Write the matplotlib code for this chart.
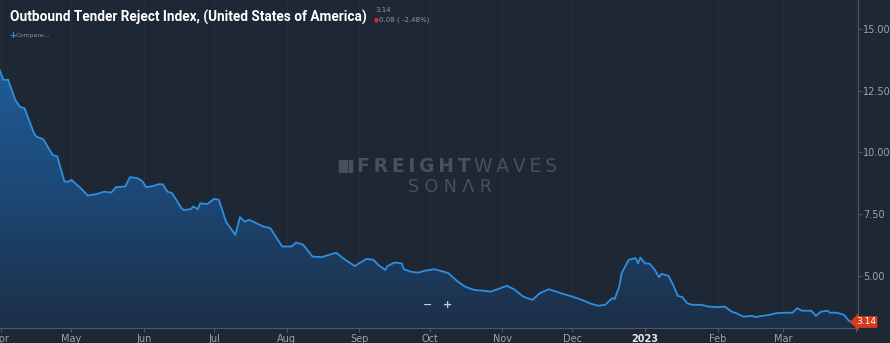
import matplotlib
matplotlib.use('Agg')
import matplotlib.pyplot as plt
import matplotlib.dates as mdates
import numpy as np
import pandas as pd
from matplotlib.colors import LinearSegmentedColormap
from matplotlib.patches import Rectangle

# values
dates = ['2022-03-31', '2022-04-02', '2022-04-04', '2022-04-07', '2022-04-09', '2022-04-11',
         '2022-04-15', '2022-04-16', '2022-04-19', '2022-04-23', '2022-04-25', '2022-04-28',
         '2022-04-30', '2022-05-01', '2022-05-05', '2022-05-08', '2022-05-12', '2022-05-15',
         '2022-05-18', '2022-05-20', '2022-05-24', '2022-05-26', '2022-05-29', '2022-05-31',
         '2022-06-02', '2022-06-05', '2022-06-07', '2022-06-09', '2022-06-11', '2022-06-13',
         '2022-06-17', '2022-06-18', '2022-06-21', '2022-06-22', '2022-06-24', '2022-06-25',
         '2022-06-28', '2022-07-01', '2022-07-03', '2022-07-06', '2022-07-09', '2022-07-10',
         '2022-07-12', '2022-07-14', '2022-07-16', '2022-07-19', '2022-07-22', '2022-07-25',
         '2022-07-30', '2022-08-03', '2022-08-05', '2022-08-08', '2022-08-12', '2022-08-16',
         '2022-08-19', '2022-08-22', '2022-08-26', '2022-08-30', '2022-09-04', '2022-09-07',
         '2022-09-09', '2022-09-12', '2022-09-13', '2022-09-16', '2022-09-19', '2022-09-20',
         '2022-09-23', '2022-09-26', '2022-09-29', '2022-10-03', '2022-10-07', '2022-10-09',
         '2022-10-13', '2022-10-16', '2022-10-20', '2022-10-24', '2022-10-27', '2022-10-30',
         '2022-11-03', '2022-11-06', '2022-11-10', '2022-11-14', '2022-11-17', '2022-11-21',
         '2022-11-26', '2022-12-01', '2022-12-05', '2022-12-09', '2022-12-12', '2022-12-15',
         '2022-12-18', '2022-12-19', '2022-12-21', '2022-12-22', '2022-12-25', '2022-12-28',
         '2022-12-29', '2022-12-30', '2023-01-01', '2023-01-03', '2023-01-05', '2023-01-07',
         '2023-01-08', '2023-01-11', '2023-01-13', '2023-01-15', '2023-01-17', '2023-01-19',
         '2023-01-21', '2023-01-25', '2023-01-28', '2023-02-01', '2023-02-04', '2023-02-07',
         '2023-02-09', '2023-02-12', '2023-02-16', '2023-02-17', '2023-02-20', '2023-02-23',
         '2023-02-26', '2023-03-02', '2023-03-05', '2023-03-07', '2023-03-09', '2023-03-13',
         '2023-03-15', '2023-03-17', '2023-03-20', '2023-03-21', '2023-03-24', '2023-03-27',
         '2023-03-29', '2023-03-30']
otri = [13.41, 12.94, 12.94, 12.13, 11.85, 11.79,
        10.78, 10.64, 10.53, 9.90, 9.83, 8.82,
        8.82, 8.89, 8.55, 8.25, 8.32, 8.41,
        8.37, 8.59, 8.62, 9.00, 8.96, 8.86,
        8.59, 8.64, 8.71, 8.71, 8.41, 8.35,
        7.74, 7.67, 7.70, 7.81, 7.70, 7.94,
        7.91, 8.12, 8.08, 7.20, 6.79, 6.66,
        7.38, 7.20, 7.27, 7.13, 7.00, 6.93,
        6.19, 6.19, 6.35, 6.26, 5.78, 5.76,
        5.85, 5.94, 5.65, 5.40, 5.69, 5.65,
        5.45, 5.24, 5.40, 5.54, 5.51, 5.27,
        5.17, 5.13, 5.21, 5.27, 5.17, 5.11,
        4.77, 4.57, 4.43, 4.40, 4.36, 4.46,
        4.60, 4.46, 4.16, 4.03, 4.30, 4.46,
        4.30, 4.16, 4.03, 3.87, 3.79, 3.83,
        4.10, 4.06, 4.57, 5.11, 5.65, 5.72,
        5.51, 5.74, 5.51, 5.49, 5.27, 4.95,
        5.08, 5.00, 4.64, 4.19, 4.14, 3.89,
        3.83, 3.83, 3.76, 3.73, 3.76, 3.55,
        3.49, 3.35, 3.38, 3.33, 3.38, 3.42,
        3.49, 3.51, 3.51, 3.69, 3.59, 3.59,
        3.38, 3.55, 3.59, 3.51, 3.51, 3.42,
        3.19, 3.14]

month_ticks = ['2022-04-01', '2022-05-01', '2022-06-01', '2022-07-01', '2022-08-01', '2022-09-01',
               '2022-10-01', '2022-11-01', '2022-12-01', '2023-01-01', '2023-02-01', '2023-03-01',
               '2023-04-01']
month_labels = ['Apr', 'May', 'Jun', 'Jul', 'Aug', 'Sep', 'Oct', 'Nov', 'Dec', '2023', 'Feb', 'Mar', '']
y_ticks = [5.0, 7.5, 10.0, 12.5, 15.0]

bg = '#1e2734'
line_color = '#2e8fe0'
label_color = '#9aa4ae'

x = mdates.date2num(pd.to_datetime(dates))

fig = plt.figure(figsize=(8.9, 3.43), dpi=100, facecolor=bg)
ax = fig.add_axes([0, 15 / 343, 857.7 / 890, 328 / 343])
ax.set_facecolor(bg)
ax.set_axisbelow(True)

x_lo = mdates.date2num(pd.Timestamp('2022-03-31 12:00'))
x_hi = mdates.date2num(pd.Timestamp('2023-04-01 20:00'))
y_lo, y_hi = 2.89, 16.17
ax.set_xlim(x_lo, x_hi)
ax.set_ylim(y_lo, y_hi)

# gradient fill under the line
cmap = LinearSegmentedColormap.from_list('fill', ['#1c2f47', '#1d4876', '#1f5f9a'])
grad = np.linspace(0, 1, 256).reshape(-1, 1)
img = ax.imshow(grad, cmap=cmap, aspect='auto', origin='lower',
                extent=[x_lo, x_hi, y_lo, 14.0], zorder=2)
poly = ax.fill_between(x, otri, y_lo, color='none', lw=0)
clip = poly.get_paths()[0]
img.set_clip_path(clip, transform=ax.transData)

ax.plot(x, otri, color=line_color, lw=1.3, zorder=3)

# grid and spines
ax.set_xticks(mdates.date2num(pd.to_datetime(month_ticks)))
ax.set_xticklabels(month_labels)
ax.grid(axis='x', color='#242e3b', lw=0.8)
ax.set_yticks(y_ticks)
ax.set_yticklabels([f'{v:.2f}' for v in y_ticks])
ax.yaxis.tick_right()
for s in ['top', 'left']:
    ax.spines[s].set_visible(False)
ax.spines['right'].set_color('#4e5966')
ax.spines['bottom'].set_color('#4e5966')
ax.tick_params(axis='y', colors='#4e5966', labelcolor=label_color, labelsize=7, length=3, pad=1)
ax.tick_params(axis='x', colors='#4e5966', labelcolor=label_color, labelsize=7, length=3, pad=1)
for t in ax.get_xticklabels():
    if t.get_text() == '2023':
        t.set_color('#e6e9ec')
        t.set_fontweight('bold')

# title and header info
fig.text(10 / 890, 1 - 17 / 343, 'Outbound Tender Reject Index, (United States of America)',
         family='Roboto', fontweight='bold', fontsize=9.8,
         color='white', va='center', ha='left')
fig.text(375 / 890, 1 - 10 / 343, '3.14', fontsize=5, color='#8a939d', va='center')
fig.text(374 / 890, 1 - 20 / 343, '●', fontsize=4, color='#d8283c', va='center')
fig.text(379 / 890, 1 - 20 / 343, '0.08 ( -2.48%)', fontsize=5, color='#8a939d', va='center')
fig.text(9 / 890, 1 - 36 / 343, '+', fontsize=6, color='#3a8fe0', va='center', fontweight='bold')
fig.text(16 / 890, 1 - 36 / 343, 'Compare...', fontsize=4.5, color='#8a939d', va='center')

# watermark
wm = '#47505d'
ts = '\u2009'
fig.text(357 / 890, 1 - 166 / 343, ts.join('FREIGHT'), fontsize=13.5, fontweight='black', color=wm,
         va='center', ha='left', family='DejaVu Sans')
fig.text(557 / 890, 1 - 166 / 343, ts.join('WAVES'), fontsize=13.5, color=wm,
         va='center', ha='right', family='DejaVu Sans')
for i in range(6):
    fig.patches.append(Rectangle(((339 + i * 2.4) / 890, 1 - 172 / 343), 1.2 / 890, 12 / 343,
                                 transform=fig.transFigure, color=wm))
fig.text(450 / 890, 1 - 187 / 343, 'S O N Λ R', fontsize=12.5, color=wm,
         va='center', ha='center', family='DejaVu Sans')

# zoom controls
fig.text(428 / 890, 1 - 305 / 343, '−', fontsize=8, color='#c8cdd2', va='center', ha='center',
         fontweight='bold')
fig.text(448 / 890, 1 - 305 / 343, '+', fontsize=8, color='#c8cdd2', va='center', ha='center',
         fontweight='bold')

# last value marker
fig.text(866 / 890, 1 - 322 / 343, '3.14', fontsize=6.5, color='white', va='center', ha='center',
         bbox=dict(boxstyle='larrow,pad=0.15', fc='#d23b1c', ec='none'))

fig.savefig('out.png', dpi=100, facecolor=bg)
